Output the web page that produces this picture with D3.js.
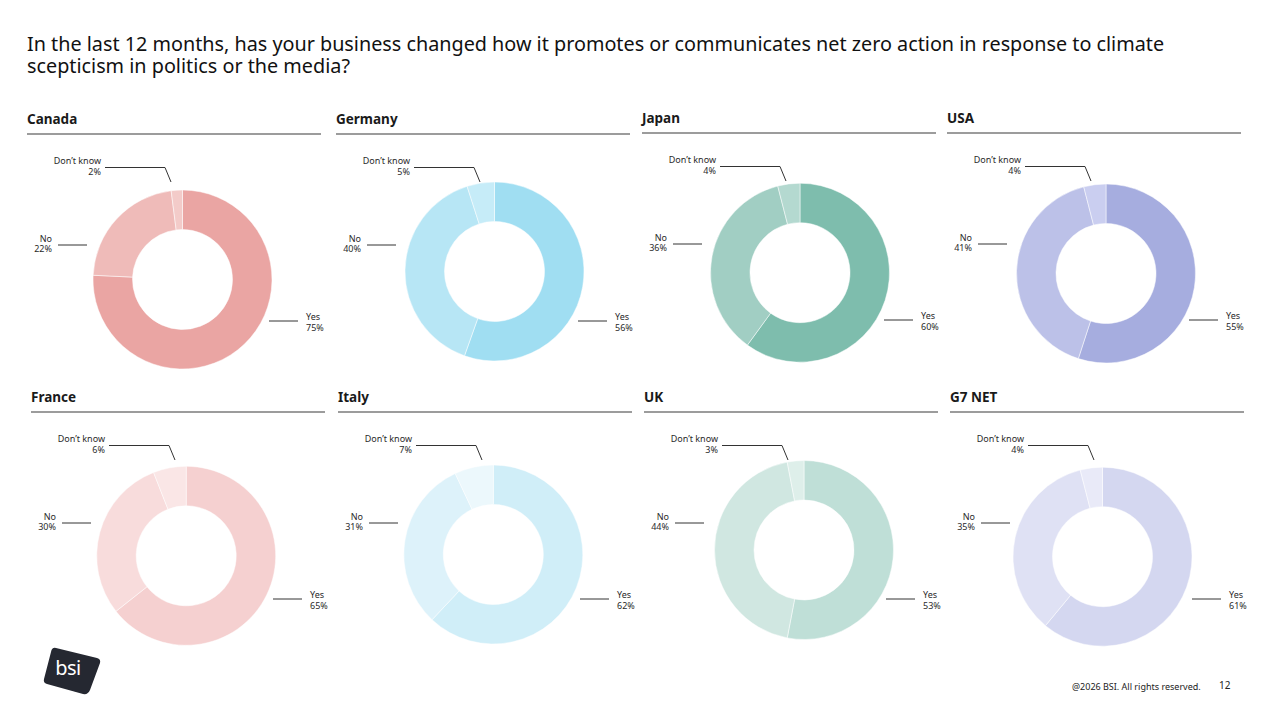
<!DOCTYPE html>
<html>
<head>
<meta charset="utf-8">
<script src="https://cdn.jsdelivr.net/npm/d3@7/dist/d3.min.js"></script>
<style>
  html, body { margin: 0; padding: 0; background: #fff; }
  svg { display: block; font-family: "Noto Sans", "Open Sans", sans-serif; }
</style>
</head>
<body>
<svg id="chart" width="1275" height="715"></svg>
<script>
// ---- data ----
const titleLines = [
  "In the last 12 months, has your business changed how it promotes or communicates net zero action in response to climate",
  "scepticism in politics or the media?"
];
const countries = ["Canada", "Germany", "Japan", "USA", "France", "Italy", "UK", "G7 NET"];
const categories = ["Yes", "No", "Don’t know"];
const yesValues = [75, 56, 60, 55, 65, 62, 53, 61];
const noValues  = [22, 40, 36, 41, 30, 31, 44, 35];
const dkValues  = [2, 5, 4, 4, 6, 7, 3, 4];
const footerText = "@2026 BSI. All rights reserved.";
const pageNumber = "12";

// ---- styles / layout ----
const palettes = [
  ["#eaa5a3", "#efbbb9", "#f3cbc9"],
  ["#a0def2", "#b7e6f5", "#c6ecf8"],
  ["#7ebdad", "#a1cec3", "#b4d9d0"],
  ["#a6addf", "#bcc1e8", "#cacef0"],
  ["#f5d0d0", "#f8dcdc", "#fae6e6"],
  ["#d0eef8", "#ddf2fa", "#ecf8fc"],
  ["#bfdfd7", "#d0e7e1", "#deefea"],
  ["#d4d7f0", "#dfe1f4", "#e9eaf8"]
];
const panelX = [27, 336, 642, 947, 31, 338, 644, 950];
const ruleY  = [134, 134, 133, 133, 412, 412, 412, 412];
const ruleW = 294;
const centerDX = [155.5, 158.5, 158, 159, 155.2, 155.3, 160, 152.5];
const centerDY = [145.5, 137.5, 139.7, 140.5, 143.8, 142.5, 138, 144.7];
const outerR = 89.5, innerR = 50;

const svg = d3.select("#chart");

// title (one text element, two lines)
svg.append("text")
  .attr("x", 27).attr("y", 50.5)
  .attr("font-size", 19.8).attr("fill", "#111")
  .selectAll("tspan").data(titleLines).join("tspan")
  .attr("x", 27).attr("dy", (d, i) => i === 0 ? 0 : 22.5)
  .text(d => d);

const pie = d3.pie().sort(null).value(d => d.value)
  .startAngle(0).endAngle(2 * Math.PI);
const arc = d3.arc().innerRadius(innerR).outerRadius(outerR);

countries.forEach((name, i) => {
  const px = panelX[i], ry = ruleY[i];
  const g = svg.append("g");
  const color = d3.scaleOrdinal().domain(categories).range(palettes[i]);
  const data = [
    { cat: categories[0], value: yesValues[i] },
    { cat: categories[1], value: noValues[i] },
    { cat: categories[2], value: dkValues[i] }
  ];

  // header
  g.append("text").attr("x", px).attr("y", ry - 10)
    .attr("font-size", 13.5).attr("font-weight", 700).attr("fill", "#1a1a1a")
    .text(name);
  g.append("line").attr("x1", px).attr("x2", px + ruleW)
    .attr("y1", ry).attr("y2", ry)
    .attr("stroke", "#3a3a3a").attr("stroke-width", 1.2);

  // donut
  const cx = px + centerDX[i], cy = ry + centerDY[i];
  g.append("g").attr("transform", `translate(${cx},${cy})`)
    .selectAll("path").data(pie(data)).join("path")
    .attr("d", arc)
    .attr("fill", d => color(d.data.cat))
    .attr("stroke", "#fff").attr("stroke-width", 0.5);

  const lineColor = "#333";
  const textColor = "#2a2a2a";
  const fs = 9;

  // Don't know label
  g.append("text").attr("x", px + 74).attr("y", ry + 30.2)
    .attr("text-anchor", "end").attr("font-size", fs).attr("fill", textColor)
    .text(categories[2]);
  g.append("text").attr("x", px + 74).attr("y", ry + 41)
    .attr("text-anchor", "end").attr("font-size", fs).attr("fill", textColor)
    .text(dkValues[i] + "%");
  g.append("path")
    .attr("d", `M${px + 78},${ry + 33.5}H${px + 138}L${px + 144},${ry + 48}`)
    .attr("fill", "none").attr("stroke", lineColor).attr("stroke-width", 1);

  // No label
  g.append("text").attr("x", px + 25).attr("y", ry + 107.5)
    .attr("text-anchor", "end").attr("font-size", fs).attr("fill", textColor)
    .text(categories[1]);
  g.append("text").attr("x", px + 25).attr("y", ry + 118.3)
    .attr("text-anchor", "end").attr("font-size", fs).attr("fill", textColor)
    .text(noValues[i] + "%");
  g.append("line").attr("x1", px + 31).attr("x2", px + 60)
    .attr("y1", ry + 111).attr("y2", ry + 111)
    .attr("stroke", lineColor).attr("stroke-width", 1);

  // Yes label
  g.append("text").attr("x", px + 279).attr("y", ry + 186)
    .attr("font-size", fs).attr("fill", textColor)
    .text(categories[0]);
  g.append("text").attr("x", px + 279).attr("y", ry + 196.8)
    .attr("font-size", fs).attr("fill", textColor)
    .text(yesValues[i] + "%");
  g.append("line").attr("x1", px + 242).attr("x2", px + 271)
    .attr("y1", ry + 187).attr("y2", ry + 187)
    .attr("stroke", lineColor).attr("stroke-width", 1);
});

// logo
const logo = svg.append("g");
logo.append("path")
  .attr("d", "M56,648 L97,658 Q101,659 100,663 L90,690 Q88,695 83,694 L47,684 Q43,683 44,679 L51,652 Q52,647 56,648 Z")
  .attr("fill", "#252831");
logo.append("text").attr("x", 68).attr("y", 675)
  .attr("text-anchor", "middle").attr("font-size", 20).attr("fill", "#fff")
  .attr("letter-spacing", -0.5)
  .text("bsi");

// footer
svg.append("text").attr("x", 1072).attr("y", 689.5)
  .attr("font-size", 9).attr("fill", "#222").text(footerText);
svg.append("text").attr("x", 1219).attr("y", 689)
  .attr("font-size", 10).attr("fill", "#222").text(pageNumber);
</script>
</body>
</html>
